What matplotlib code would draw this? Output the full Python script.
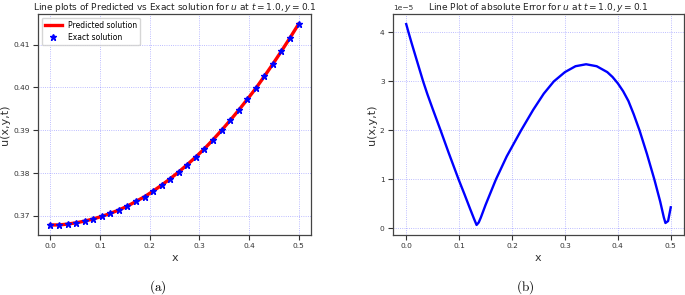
import numpy as np
import matplotlib
matplotlib.use("Agg")
import matplotlib.pyplot as plt

# ---- data ----
x_sol = np.linspace(0.0, 0.5, 30)
exact_u = [0.3679, 0.3679, 0.3681, 0.3684, 0.3688, 0.3693, 0.3699, 0.3706,
           0.3714, 0.3723, 0.3734, 0.3745, 0.3758, 0.3772, 0.3787, 0.3803,
           0.3820, 0.3838, 0.3857, 0.3878, 0.3900, 0.3923, 0.3947, 0.3972,
           0.3998, 0.4026, 0.4055, 0.4085, 0.4116, 0.4148]
pred_u = exact_u

x_err = [0.000, 0.0044, 0.010, 0.020, 0.032, 0.040, 0.050, 0.065, 0.080,
         0.099, 0.110, 0.120, 0.128, 0.133, 0.137, 0.141, 0.150, 0.1696,
         0.190, 0.2171, 0.240, 0.260, 0.279, 0.300, 0.320, 0.340, 0.360,
         0.380, 0.390, 0.400, 0.410, 0.420, 0.430, 0.441, 0.455, 0.469,
         0.480, 0.487, 0.490, 0.495, 0.500]
abs_err = [4.17, 4.00, 3.79, 3.43, 3.00, 2.74, 2.44, 2.00, 1.55,
           1.00, 0.70, 0.42, 0.20, 0.07, 0.12, 0.22, 0.48, 1.00,
           1.47, 2.00, 2.42, 2.75, 3.00, 3.19, 3.31, 3.35, 3.31,
           3.19, 3.09, 2.96, 2.80, 2.60, 2.33, 2.00, 1.52, 1.00,
           0.55, 0.22, 0.11, 0.15, 0.43]
err_scale = 1e-5

title_a = r"Line plots of Predicted vs Exact solution for $u$ at $t = 1.0, y = 0.1$"
title_b = r"Line Plot of absolute Error for $u$ at $t = 1.0, y = 0.1$"

plt.rcParams['font.family'] = ['DejaVu Sans']
fig = plt.figure(figsize=(6.85, 2.95), dpi=100)
ax1 = fig.add_axes([0.0555, 0.2034, 0.3985, 0.749])
ax2 = fig.add_axes([0.5737, 0.2034, 0.4248, 0.749])

tick_color = '#333333'
for ax in (ax1, ax2):
    ax.grid(True, color='blue', linestyle=':', linewidth=0.6, alpha=0.35)
    ax.tick_params(labelsize=5.4, colors=tick_color, length=3.5, width=0.8, pad=2.5)
    for s in ax.spines.values():
        s.set_color('#444444')
        s.set_linewidth(0.9)
    ax.set_xlabel('x', fontsize=8, color='#333333', labelpad=3)
    ax.set_ylabel('u(x,y,t)', fontsize=8, color='#333333', labelpad=2)
    ax.set_xticks([0.0, 0.1, 0.2, 0.3, 0.4, 0.5])

ax1.plot(x_sol, pred_u, color='red', linewidth=2.4, label='Predicted solution', zorder=2)
ax1.plot(x_sol, exact_u, linestyle='none', marker='*', color='blue',
         markersize=4.8, label='Exact solution', zorder=3)
ax1.set_yticks([0.37, 0.38, 0.39, 0.40, 0.41])
ax1.set_title(title_a, fontsize=6.5, color='#222222', pad=3, y=1.0)
leg = ax1.legend(loc='upper left', fontsize=5.5, frameon=True, handlelength=2.2,
                 borderpad=0.4, labelspacing=0.4)
leg.get_frame().set_edgecolor('#cccccc')

ax2.plot(x_err, np.array(abs_err) * err_scale, color='blue', linewidth=1.7)
ax2.set_title(title_b, fontsize=6.5, color='#222222', pad=3, y=1.0)
ax2.yaxis.get_offset_text().set_fontsize(5.4)
ax2.yaxis.get_offset_text().set_color(tick_color)

fig.text(0.231, 0.027, r'$\mathrm{(a)}$', fontsize=9.5, ha='center', va='center',
         math_fontfamily='cm')
fig.text(0.766, 0.027, r'$\mathrm{(b)}$', fontsize=9.5, ha='center', va='center',
         math_fontfamily='cm')

fig.savefig('out.png', dpi=100)
